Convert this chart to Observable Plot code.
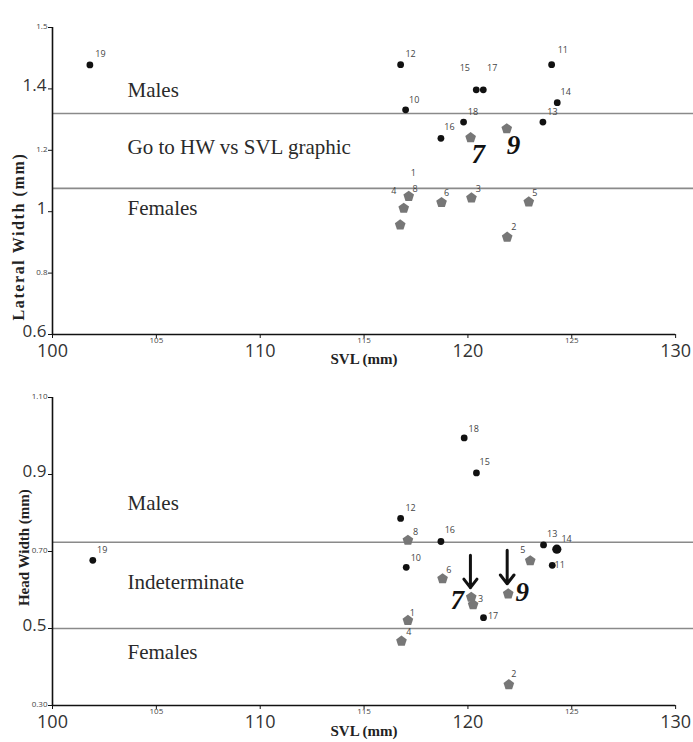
<!DOCTYPE html>
<html>
<head>
<meta charset="utf-8">
<script src="https://cdn.jsdelivr.net/npm/d3@7"></script>
<script src="https://cdn.jsdelivr.net/npm/@observablehq/plot@0.6"></script>
<style>
  html, body { margin: 0; padding: 0; background: #fff; }
  #charts svg { display: block; overflow: visible; }
</style>
</head>
<body>
<div id="charts"></div>
<script>
// ---------- data ----------
const ids = [1, 2, 3, 4, 5, 6, 7, 8, 9, 10, 11, 12, 13, 14, 15, 16, 17, 18, 19];
const femaleIds = [1, 2, 3, 4, 5, 6, 7, 8, 9];       // grey pentagons
const highlightIds = [7, 9];                          // big italic numerals

// Top panel: Lateral width vs SVL
const svlLW = [116.91, 121.89, 120.17, 116.74, 122.93, 118.73, 120.13, 117.15, 121.87,
               117.00, 124.03, 116.76, 123.61, 124.30, 120.40, 118.70, 120.74, 119.79, 101.80];
const lateralWidth = [1.011, 0.917, 1.045, 0.957, 1.032, 1.030, 1.241, 1.050, 1.270,
                      1.332, 1.479, 1.479, 1.292, 1.355, 1.397, 1.239, 1.397, 1.292, 1.478];
const lwLabelX = [117.37, 122.21, 120.50, 116.43, 123.22, 118.97, 120.50, 117.46, 122.19,
                  117.41, 124.57, 117.24, 124.07, 124.71, 119.85, 119.11, 121.17, 120.24, 102.31];
const lwLabelY = [1.125, 0.949, 1.073, 1.068, 1.062, 1.062, 1.186, 1.073, 1.216,
                  1.365, 1.525, 1.514, 1.326, 1.388, 1.469, 1.274, 1.469, 1.326, 1.514];
const lwThresholds = [1.320, 1.076];
const lwZones = ["Males", "Go to HW vs SVL graphic", "Females"];
const lwZoneY = [1.395, 1.209, 1.010];
const lwTicks = [0.6, 0.8, 1.0, 1.2, 1.4, 1.6];
const lwTickLabels = ["0.6", "0.8", "1", "1.2", "1.4", "1.5"];
const lwBigLabels = ["0.6", "1", "1.4"];

// Bottom panel: Head width vs SVL
const svlHW = [117.11, 121.97, 120.25, 116.80, 123.00, 118.78, 120.16, 117.11, 121.94,
               117.03, 124.06, 116.76, 123.64, 124.28, 120.41, 118.70, 120.75, 119.82, 101.94];
const headWidth = [0.521, 0.354, 0.562, 0.467, 0.676, 0.629, 0.581, 0.729, 0.590,
                   0.659, 0.664, 0.786, 0.717, 0.706, 0.904, 0.726, 0.528, 0.995, 0.677];
const hwLabelX = [117.32, 122.21, 120.61, 117.15, 122.64, 119.08, 119.49, 117.48, 122.61,
                  117.49, 124.42, 117.24, 124.06, 124.75, 120.81, 119.13, 121.21, 120.28, 102.39];
const hwLabelY = [0.541, 0.381, 0.577, 0.490, 0.704, 0.651, 0.573, 0.750, 0.593,
                  0.683, 0.664, 0.812, 0.744, 0.731, 0.932, 0.755, 0.531, 1.019, 0.704];
const hwThresholds = [0.724, 0.500];
const hwZones = ["Males", "Indeterminate", "Females"];
const hwZoneY = [0.825, 0.620, 0.438];
const hwTicks = [0.3, 0.5, 0.7, 0.9, 1.1];
const hwTickLabels = ["0.30", "0.5", "0.70", "0.9", "1.10"];
const hwBigLabels = ["0.5", "0.9"];
const arrowIds = [7, 9];
const arrowX = [120.12, 121.89];
const arrowY1 = [0.690, 0.703];
const arrowY2 = [0.606, 0.616];

// X axis
const xTicks = [100, 105, 110, 115, 120, 125, 130];
const xTickLabels = ["100", "105", "110", "115", "120", "125", "130"];
const xBigLabels = ["100", "110", "120", "130"];
const xTitle = "SVL (mm)";
const zoneX = 103.61;

// ---------- helpers ----------
const pentagon = {
  draw(ctx, size) {
    const R = Math.sqrt(size / Math.PI) * 1.12;
    for (let i = 0; i < 5; i++) {
      const a = -Math.PI / 2 + i * 2 * Math.PI / 5;
      const px = R * Math.cos(a), py = R * Math.sin(a);
      if (i === 0) ctx.moveTo(px, py); else ctx.lineTo(px, py);
    }
    ctx.closePath();
  }
};

const sans = "'Open Sans', 'Liberation Sans', sans-serif";
const serif = "'Liberation Serif', 'DejaVu Serif', serif";

function panel(opts) {
  const rows = ids.map((id, i) => ({
    id, x: opts.xs[i], y: opts.ys[i], lx: opts.lxs[i], ly: opts.lys[i],
    female: femaleIds.includes(id), hi: highlightIds.includes(id)
  }));
  const ticks = opts.yTicks.map((v, i) => ({v, label: opts.yTickLabels[i], big: opts.yBig.includes(opts.yTickLabels[i])}));
  const xt = xTicks.map((v, i) => ({v, label: xTickLabels[i], big: xBigLabels.includes(xTickLabels[i])}));
  const zones = opts.zones.map((t, i) => ({t, y: opts.zoneY[i]}));
  const y0 = opts.yDomain[0];
  const marks = [
    Plot.ruleY(opts.thresholds, {stroke: "#8a8a8a", strokeWidth: 1.6}),
    Plot.ruleX([xTicks[0]], {stroke: "#111", strokeWidth: 1.6}),
    Plot.ruleY([y0], {x1: () => xTicks[0], x2: () => xTicks[xTicks.length - 1], stroke: "#111", strokeWidth: 1.6}),
    Plot.axisY({ticks: opts.yTicks, tickSize: 4, tickFormat: () => "", label: null, stroke: "#111"}),
    Plot.axisX({ticks: xTicks, tickSize: 4, tickFormat: () => "", label: null, stroke: "#111"}),
    // y tick labels
    Plot.text(ticks.filter(d => d.big), {x: () => xTicks[0], y: "v", text: "label", dx: -6, dy: -3, textAnchor: "end",
      fontSize: 17, fontFamily: sans, fill: "#333"}),
    Plot.text(ticks.filter(d => !d.big), {x: () => xTicks[0], y: "v", text: "label", dx: -5, dy: -1, textAnchor: "end",
      fontSize: 8, fontFamily: sans, fill: "#444"}),
    // x tick labels
    Plot.text(xt.filter(d => d.big), {x: "v", y: () => y0, text: "label", dy: 10, lineAnchor: "top",
      fontSize: 18, fontFamily: sans, fill: "#333"}),
    Plot.text(xt.filter(d => !d.big), {x: "v", y: () => y0, text: "label", dy: 3, lineAnchor: "top",
      fontSize: 8, fontFamily: sans, fill: "#444"}),
    // axis titles
    Plot.text([xTitle], {x: () => 115, y: () => y0, dy: opts.xTitleDy, text: d => d, lineAnchor: "middle",
      fontSize: 15, fontWeight: "bold", fontFamily: serif, fill: "#222"}),
    Plot.text([opts.yTitle], {x: () => opts.yTitleX, y: () => opts.yTitleY, text: d => d, rotate: -90,
      fontSize: opts.yTitleSize, fontWeight: "bold", fontFamily: serif, fill: "#222"}),
    // zone labels
    Plot.text(zones, {x: () => zoneX, y: "y", text: "t", textAnchor: "start", fontSize: 21, fontFamily: serif, fill: "#2a2a2a"}),
    // arrows
    ...(opts.arrows ? [Plot.arrow(opts.arrows, {x1: "x", x2: "x", y1: "y1", y2: "y2", stroke: "#111",
      strokeWidth: 3, headLength: 13, headAngle: 75})] : []),
    // points
    Plot.dot(rows.filter(d => !d.female), {x: "x", y: "y", r: d => (opts.bigDot === d.id ? 4.6 : 3.4), fill: "#111"}),
    Plot.dot(rows.filter(d => d.female), {x: "x", y: "y", r: 5, symbol: pentagon, fill: "#777"}),
    // point labels
    Plot.text(rows.filter(d => !d.hi), {x: "lx", y: "ly", text: "id", fontSize: 9, fontFamily: sans, fill: "#444"}),
    Plot.text(rows.filter(d => d.hi), {x: "lx", y: "ly", text: "id", fontSize: 27, fontStyle: "italic",
      fontWeight: "bold", fontFamily: serif, fill: "#111"})
  ];
  return Plot.plot({
    width: 693, height: opts.height,
    marginLeft: 52, marginRight: 0, marginTop: 27, marginBottom: opts.marginBottom,
    style: {background: "#fff"},
    x: {domain: [100, 130.86], axis: null},
    y: {domain: opts.yDomain, axis: null},
    r: {type: "identity"},
    marks
  });
}

const lwChart = panel({
  xs: svlLW, ys: lateralWidth, lxs: lwLabelX, lys: lwLabelY,
  yDomain: [0.6, 1.6], yTicks: lwTicks, yTickLabels: lwTickLabels, yBig: lwBigLabels,
  thresholds: lwThresholds, zones: lwZones, zoneY: lwZoneY,
  yTitle: "Lateral Width (mm)", yTitleX: 98.38, yTitleY: 0.919, yTitleSize: 16,
  height: 370, marginBottom: 36, xTitleDy: 25
});
const arrowRows = arrowIds.map((id, i) => ({id, x: arrowX[i], y1: arrowY1[i], y2: arrowY2[i]}));
const hwChart = panel({
  xs: svlHW, ys: headWidth, lxs: hwLabelX, lys: hwLabelY,
  yDomain: [0.3, 1.1], yTicks: hwTicks, yTickLabels: hwTickLabels, yBig: hwBigLabels,
  thresholds: hwThresholds, zones: hwZones, zoneY: hwZoneY,
  yTitle: "Head Width (mm)", yTitleX: 98.65, yTitleY: 0.710, yTitleSize: 15,
  height: 372, marginBottom: 37, xTitleDy: 26, arrows: arrowRows, bigDot: 14
});
const host = document.getElementById("charts");
host.appendChild(lwChart);
host.appendChild(hwChart);
d3.select(lwChart).selectAll("text").filter(function () { return this.textContent === "Lateral Width (mm)"; })
  .attr("letter-spacing", "1.6");
</script>
</body>
</html>
